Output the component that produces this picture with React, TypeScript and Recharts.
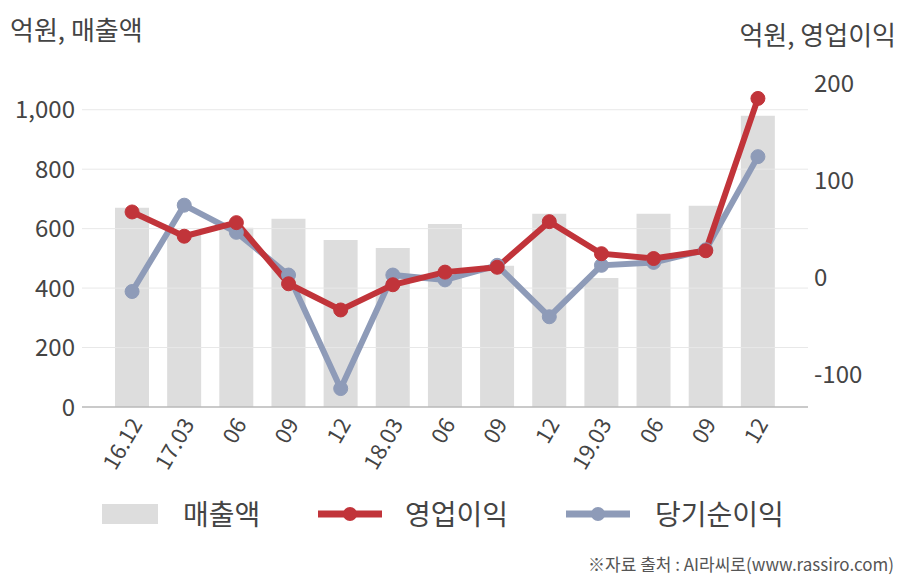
import React from 'react';
import {
  ComposedChart, Bar, Line, XAxis, YAxis, ReferenceLine,
} from 'recharts';

const periods = ['16.12', '17.03', '06', '09', '12', '18.03', '06', '09', '12', '19.03', '06', '09', '12'];
const sales = [670, 590, 603, 633, 562, 535, 616, 475, 650, 434, 650, 677, 980];
const operatingProfit = [68, 43, 57, -6, -33, -7, 6, 11, 58, 25, 20, 28, 185];
const netIncome = [-14, 75, 47, 3, -114, 3, -2, 13, -40, 13, 16, 29, 125];

const leftTicks = [0, 200, 400, 600, 800, 1000];
const rightTicks = [-100, 0, 100, 200];

const RED = '#c1343a';
const BLUE = '#8e9bb8';
const GREY = '#dddddd';
const FONT = '"Noto Sans CJK KR", "Noto Sans", sans-serif';
const TEXT = '#444444';

const data = periods.map((p, i) => ({
  period: p,
  sales: sales[i],
  op: operatingProfit[i],
  net: netIncome[i],
}));

function XTick(props: any) {
  const { x, y, payload } = props;
  return (
    <text
      x={x + 11}
      y={y + 15}
      transform={`rotate(-60, ${x + 11}, ${y + 15})`}
      textAnchor="end"
      fill={TEXT}
      fontSize={22}
      fontFamily={FONT}
    >
      {payload.value}
    </text>
  );
}

function LegendLine({ color }: { color: string }) {
  return (
    <svg width={64} height={20} style={{ display: 'block' }}>
      <line x1={0} y1={10} x2={64} y2={10} stroke={color} strokeWidth={7} />
      <circle cx={32} cy={10} r={7} fill={color} />
    </svg>
  );
}

export default function App() {
  const legendText: React.CSSProperties = {
    position: 'absolute', top: 493, fontSize: 28, color: TEXT, lineHeight: '40px',
  };
  return (
    <div style={{ position: 'absolute', left: 0, top: 0, width: 908, height: 580, background: '#fff', fontFamily: FONT }}>
      <div style={{ position: 'absolute', left: 10, top: 12, fontSize: 26, color: TEXT, lineHeight: '34px' }}>억원, 매출액</div>
      <div style={{ position: 'absolute', right: 12, top: 17, fontSize: 26, color: TEXT, lineHeight: '34px' }}>억원, 영업이익</div>
      <ComposedChart
        width={908}
        height={580}
        data={data}
        margin={{ top: 80, right: 0, left: 0, bottom: 103 }}
        barSize={34}
      >
        <XAxis
          dataKey="period"
          height={70}
          padding={{ left: 24, right: 24 }}
          tickLine={false}
          axisLine={{ stroke: '#b8b8b8', strokeWidth: 1.5 }}
          tick={<XTick />}
          interval={0}
          tickSize={0}
        />
        <YAxis
          yAxisId="left"
          orientation="left"
          width={82}
          domain={[0, 1100]}
          ticks={leftTicks}
          tickFormatter={(v: number) => v.toLocaleString('en-US')}
          axisLine={false}
          tickLine={false}
          tickSize={0}
          tickMargin={7}
          tick={{ fill: TEXT, fontSize: 24, fontFamily: FONT }}
        />
        <YAxis
          yAxisId="right"
          orientation="right"
          width={100}
          domain={[-133, 204]}
          ticks={rightTicks}
          axisLine={false}
          tickLine={false}
          tickSize={0}
          tickMargin={6}
          tick={{ fill: TEXT, fontSize: 24, fontFamily: FONT, textAnchor: 'start' }}
        />
        {leftTicks.filter(t => t > 0).map(t => (
          <ReferenceLine key={t} yAxisId="left" y={t} stroke="#e8e8e8" strokeWidth={1} />
        ))}
        <Bar yAxisId="left" dataKey="sales" fill={GREY} isAnimationActive={false} />
        <Line
          yAxisId="right"
          dataKey="net"
          stroke={BLUE}
          strokeWidth={6}
          dot={{ r: 7, fill: BLUE, stroke: BLUE, strokeWidth: 1 }}
          activeDot={false}
          isAnimationActive={false}
        />
        <Line
          yAxisId="right"
          dataKey="op"
          stroke={RED}
          strokeWidth={6}
          dot={{ r: 7, fill: RED, stroke: RED, strokeWidth: 1 }}
          activeDot={false}
          isAnimationActive={false}
        />
      </ComposedChart>
      <div style={{ position: 'absolute', left: 102, top: 504, width: 56, height: 20, background: GREY }} />
      <div style={{ ...legendText, left: 183 }}>매출액</div>
      <div style={{ position: 'absolute', left: 318, top: 504 }}><LegendLine color={RED} /></div>
      <div style={{ ...legendText, left: 405 }}>영업이익</div>
      <div style={{ position: 'absolute', left: 566, top: 504 }}><LegendLine color={BLUE} /></div>
      <div style={{ ...legendText, left: 655 }}>당기순이익</div>
      <div style={{ position: 'absolute', right: 14, top: 553, fontSize: 17, color: '#555', lineHeight: '22px' }}>
        ※자료 출처 : AI라씨로(www.rassiro.com)
      </div>
    </div>
  );
}
